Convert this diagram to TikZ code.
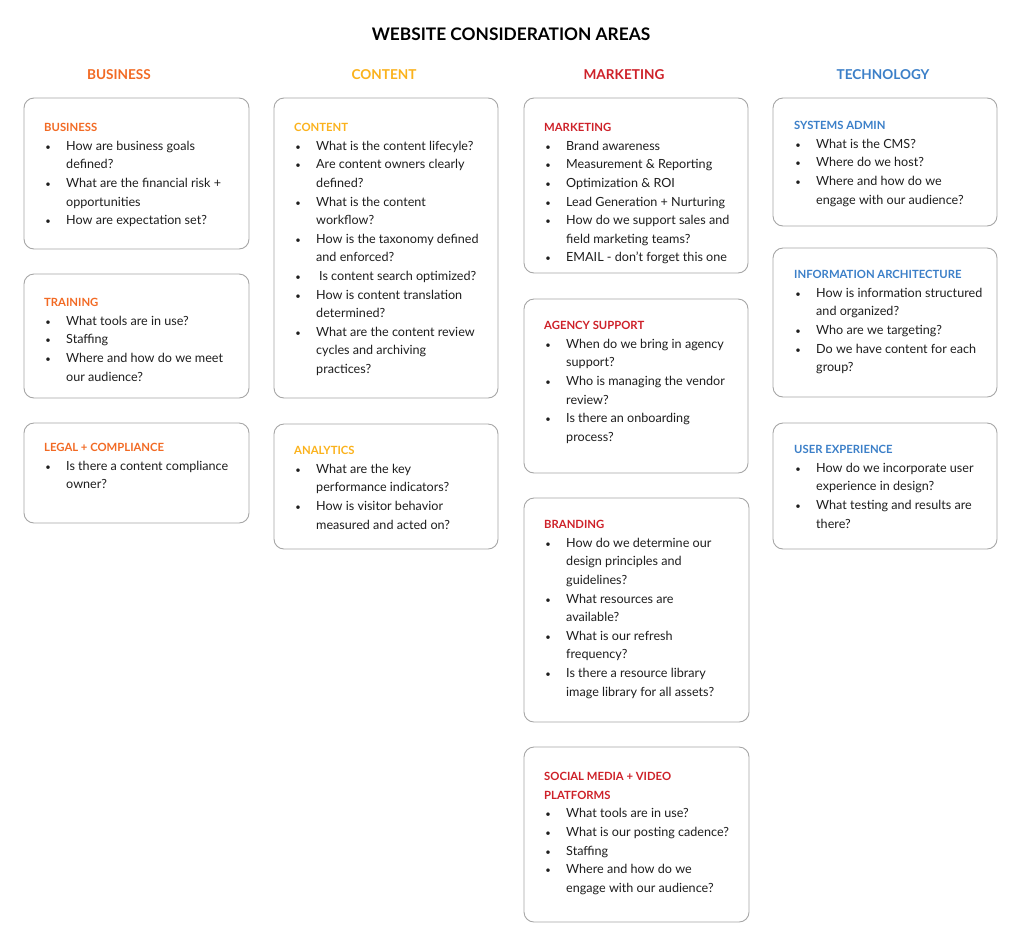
\documentclass[tikz,border=0pt]{standalone}
\usepackage{fontspec}
\setmainfont{Lato}
\definecolor{cbus}{HTML}{F26A24}
\definecolor{ccon}{HTML}{FBB21C}
\definecolor{cmkt}{HTML}{CE2129}
\definecolor{ctec}{HTML}{3B7FC8}
\definecolor{cbox}{HTML}{A6A6A6}
\definecolor{ctxt}{HTML}{1E1E1E}
\newcommand\bl{\makebox[22pt][l]{\hspace{1.2pt}\scalebox{0.75}{\textbullet}}}
\newcommand\ind{\hspace*{22pt}}
\newcommand\hd[2]{\rule{0pt}{10pt}\textcolor{#1}{\fontsize{11.3}{18.6}\selectfont\bfseries #2}}
\begin{document}
\begin{tikzpicture}[x=1pt,y=-1pt,
  box/.style={draw=cbox, line width=0.9pt, rounded corners=10pt},
  txt/.style={anchor=north west, align=left, inner sep=0pt, text=ctxt,
    font=\fontsize{12.6}{18.6}\selectfont},
  colhead/.style={anchor=base, inner sep=0pt, font=\fontsize{13.6}{18}\selectfont\bfseries},
  title/.style={anchor=base, inner sep=0pt, text=black, font=\fontsize{17.3}{22}\selectfont\bfseries}]
\path[use as bounding box, fill=white] (0,0) rectangle (1024,948);

\node[title] (title) at (511,40) {WEBSITE CONSIDERATION AREAS};
\node[colhead, text=cbus] (hbus) at (119,79) {BUSINESS};
\node[colhead, text=ccon] (hcon) at (384,79) {CONTENT};
\node[colhead, text=cmkt] (hmkt) at (624,79) {MARKETING};
\node[colhead, text=ctec] (htec) at (883,79) {TECHNOLOGY};

% column 1
\draw[box] (24,98) rectangle (249,249);
\node[txt] (tbus) at (44,121.5) {\hd{cbus}{BUSINESS}\\
\bl How are business goals\\ \ind defined?\\
\bl What are the financial risk +\\ \ind opportunities\\
\bl How are expectation set?};

\draw[box] (24,274) rectangle (249,398);
\node[txt] (ttra) at (44,296.5) {\hd{cbus}{TRAINING}\\
\bl What tools are in use?\\
\bl Staffing\\
\bl Where and how do we meet\\ \ind our audience?};

\draw[box] (24,423) rectangle (249,523);
\node[txt] (tleg) at (44,441.5) {\hd{cbus}{LEGAL + COMPLIANCE}\\
\bl Is there a content compliance\\ \ind owner?};

% column 2
\draw[box] (274,98) rectangle (498,398);
\node[txt] (tcon) at (294,121.5) {\hd{ccon}{CONTENT}\\
\bl What is the content lifecyle?\\
\bl Are content owners clearly\\ \ind defined?\\
\bl What is the content\\ \ind workflow?\\
\bl How is the taxonomy defined\\ \ind and enforced?\\
\bl \hspace{3pt}Is content search optimized?\\
\bl How is content translation\\ \ind determined?\\
\bl What are the content review\\ \ind cycles and archiving\\ \ind practices?};

\draw[box] (274,424) rectangle (498,549);
\node[txt] (tana) at (294,444.5) {\hd{ccon}{ANALYTICS}\\
\bl What are the key\\ \ind performance indicators?\\
\bl How is visitor behavior\\ \ind measured and acted on?};

% column 3
\draw[box] (524,98) rectangle (748,273);
\node[txt] (tmkt) at (544,121.5) {\hd{cmkt}{MARKETING}\\
\bl Brand awareness\\
\bl Measurement \& Reporting\\
\bl Optimization \& ROI\\
\bl Lead Generation + Nurturing\\
\bl How do we support sales and\\ \ind field marketing teams?\\
\bl EMAIL - don't forget this one};

\draw[box] (524,299) rectangle (748,473);
\node[txt] (tage) at (544,319.5) {\hd{cmkt}{AGENCY SUPPORT}\\
\bl When do we bring in agency\\ \ind support?\\
\bl Who is managing the vendor\\ \ind review?\\
\bl Is there an onboarding\\ \ind process?};

\draw[box] (524,498) rectangle (749,722);
\node[txt] (tbra) at (544,518.5) {\hd{cmkt}{BRANDING}\\
\bl How do we determine our\\ \ind design principles and\\ \ind guidelines?\\
\bl What resources are\\ \ind available?\\
\bl What is our refresh\\ \ind frequency?\\
\bl Is there a resource library\\ \ind image library for all assets?};

\draw[box] (524,747) rectangle (749,922);
\node[txt] (tsoc) at (544,770.5) {\hd{cmkt}{SOCIAL MEDIA + VIDEO}\\
\hd{cmkt}{PLATFORMS}\\
\bl What tools are in use?\\
\bl What is our posting cadence?\\
\bl Staffing\\
\bl Where and how do we\\ \ind engage with our audience?};

% column 4
\draw[box] (773,98) rectangle (997,226);
\node[txt] (tsys) at (794,119.5) {\hd{ctec}{SYSTEMS ADMIN}\\
\bl What is the CMS?\\
\bl Where do we host?\\
\bl Where and how do we\\ \ind engage with our audience?};

\draw[box] (773,248) rectangle (997,397);
\node[txt] (tinf) at (794,268.5) {\hd{ctec}{INFORMATION ARCHITECTURE}\\
\bl How is information structured\\ \ind and organized?\\
\bl Who are we targeting?\\
\bl Do we have content for each\\ \ind group?};

\draw[box] (773,423) rectangle (997,549);
\node[txt] (tux) at (794,443.5) {\hd{ctec}{USER EXPERIENCE}\\
\bl How do we incorporate user\\ \ind experience in design?\\
\bl What testing and results are\\ \ind there?};
\end{tikzpicture}
\end{document}
